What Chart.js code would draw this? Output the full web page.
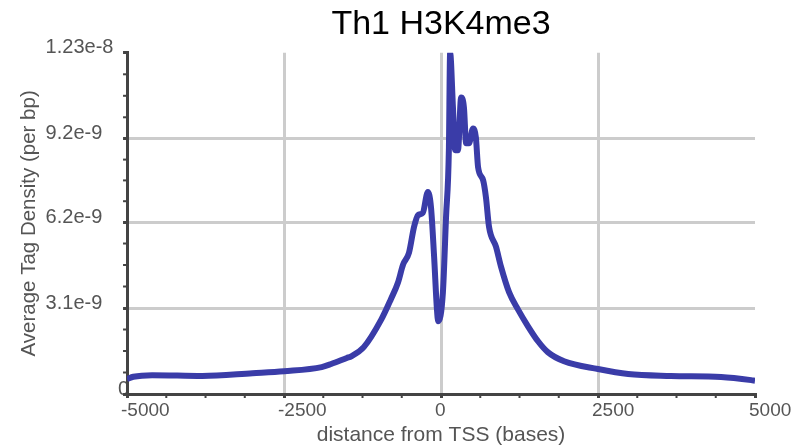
<!DOCTYPE html>
<html>
<head>
<meta charset="utf-8">
<script src="https://cdn.jsdelivr.net/npm/chart.js@4/dist/chart.umd.min.js"></script>
<style>
  html, body { margin: 0; padding: 0; background: #fff; }
  #wrap { width: 805px; height: 448px; }
</style>
</head>
<body>
<div id="wrap"><canvas id="grafico"></canvas></div>
<script>
// distance from TSS (bases)
var distancias = [-5000, -4900, -4600, -3800, -3000, -2500, -1900, -1750, -1500, -1430, -1230,
  -950, -800, -685, -605, -510, -430, -365, -290, -210, -160, -110, -65, -45,
  30, 80, 125, 145, 190, 225, 270, 320, 365, 400, 445, 510, 555, 590, 670, 715,
  765, 875, 955, 1085, 1225, 1385, 1545, 1700, 1960, 2500, 2980, 3660, 4460, 4940, 5000];

// average tag density (per bp)
var densidad = [0.54e-9, 0.62e-9, 0.68e-9, 0.65e-9, 0.75e-9, 0.82e-9, 0.97e-9, 1.08e-9, 1.30e-9, 1.36e-9, 1.69e-9,
  2.69e-9, 3.41e-9, 4.02e-9, 4.66e-9, 5.09e-9, 6.02e-9, 6.45e-9, 6.53e-9, 7.28e-9, 6.74e-9, 4.95e-9, 3.05e-9, 2.62e-9,
  3.66e-9, 6.38e-9, 8.79e-9, 12.3e-9, 10.33e-9, 8.79e-9, 8.79e-9, 10.69e-9, 10.33e-9, 9.04e-9, 9.04e-9, 9.57e-9, 9.25e-9, 8.18e-9, 7.71e-9, 7.10e-9,
  6.02e-9, 5.31e-9, 4.59e-9, 3.66e-9, 3.05e-9, 2.44e-9, 1.9e-9, 1.51e-9, 1.18e-9, 0.90e-9, 0.72e-9, 0.65e-9, 0.61e-9, 0.50e-9, 0.48e-9];

var xTicks = [-5000, -2500, 0, 2500, 5000];
var xTickLabels = ['-5000', '-2500', '0', '2500', '5000'];
var yTicks = [0, 3.1e-9, 6.2e-9, 9.2e-9, 1.23e-8];
var yTickLabels = ['0', '3.1e-9', '6.2e-9', '9.2e-9', '1.23e-8'];

var puntos = distancias.map(function (d, i) {
  return { x: d, y: densidad[i] };
});

var fuente = 'Liberation Sans, Arial, sans-serif';

// the "0" of the y axis sits right against the axis, unlike the others
var ceroEje = {
  id: 'ceroEje',
  beforeDraw: function (chart) {
    var ctx = chart.ctx;
    var sy = chart.scales.y;
    ctx.save();
    ctx.fillStyle = '#555';
    ctx.font = '20px ' + fuente;
    ctx.textAlign = 'right';
    ctx.textBaseline = 'middle';
    ctx.fillText(yTickLabels[0], chart.chartArea.left + 2, sy.getPixelForValue(yTicks[0]) - 5);
    ctx.restore();
  }
};

// small minor ticks between the major ones, outside the axes
var ticksMenores = {
  id: 'ticksMenores',
  afterDraw: function (chart) {
    var ctx = chart.ctx;
    var area = chart.chartArea;
    var sx = chart.scales.x;
    var sy = chart.scales.y;
    ctx.save();
    ctx.strokeStyle = '#444';
    ctx.lineWidth = 2;
    for (var i = 0; i < xTicks.length - 1; i++) {
      for (var k = 1; k < 4; k++) {
        var v = xTicks[i] + (xTicks[i + 1] - xTicks[i]) * k / 4;
        var px = sx.getPixelForValue(v);
        ctx.beginPath();
        ctx.moveTo(px, area.bottom);
        ctx.lineTo(px, area.bottom + 4);
        ctx.stroke();
      }
    }
    for (var j = 0; j < yTicks.length - 1; j++) {
      for (var m = 1; m < 4; m++) {
        var w = yTicks[j] + (yTicks[j + 1] - yTicks[j]) * m / 4;
        var py = sy.getPixelForValue(w);
        ctx.beginPath();
        ctx.moveTo(area.left, py);
        ctx.lineTo(area.left - 4, py);
        ctx.stroke();
      }
    }
    ctx.restore();
  }
};

new Chart(document.getElementById('grafico'), {
  type: 'line',
  data: {
    datasets: [{
      data: puntos,
      borderColor: '#3a3ca8',
      backgroundColor: '#3a3ca8',
      borderWidth: 6,
      pointRadius: 0,
      cubicInterpolationMode: 'monotone',
      fill: false
    }]
  },
  plugins: [ceroEje, ticksMenores],
  options: {
    responsive: true,
    maintainAspectRatio: false,
    animation: false,
    layout: { padding: { left: 17, right: 50, top: 4, bottom: 0 } },
    plugins: {
      legend: { display: false },
      tooltip: { enabled: false },
      title: {
        display: true,
        fullSize: false,
        text: 'Th1 H3K4me3',
        color: '#000',
        font: { family: fuente, size: 34, weight: 'normal' },
        padding: { top: 0, bottom: 8 }
      }
    },
    scales: {
      x: {
        type: 'linear',
        min: -5000,
        max: 5000,
        afterBuildTicks: function (scale) {
          scale.ticks = xTicks.map(function (v) { return { value: v }; });
        },
        ticks: {
          color: '#555',
          font: { family: fuente, size: 19 },
          padding: 1,
          align: 'start',
          labelOffset: -6,
          maxRotation: 0,
          callback: function (value, index) { return xTickLabels[index]; }
        },
        grid: {
          color: function (c) {
            var v = c.tick ? c.tick.value : null;
            return (v === -5000 || v === 5000) ? 'rgba(0,0,0,0)' : '#cccccc';
          },
          lineWidth: 3,
          tickColor: '#444',
          tickLength: 4,
          tickWidth: 3
        },
        border: { color: '#444', width: 3 },
        title: {
          display: true,
          text: 'distance from TSS (bases)',
          color: '#555',
          font: { family: fuente, size: 21 },
          padding: { top: 0, bottom: 0 }
        }
      },
      y: {
        min: 0,
        max: 1.23e-8,
        weight: 0,
        afterBuildTicks: function (scale) {
          scale.ticks = yTicks.map(function (v) { return { value: v }; });
        },
        ticks: {
          color: '#555',
          font: { family: fuente, size: 20 },
          padding: 4.8,
          crossAlign: 'far',
          labelOffset: -5,
          callback: function (value, index) { return index === 0 ? '' : yTickLabels[index]; }
        },
        grid: {
          color: function (c) {
            var v = c.tick ? c.tick.value : null;
            return (v === 0 || v === 1.23e-8) ? 'rgba(0,0,0,0)' : '#cccccc';
          },
          lineWidth: 3,
          tickColor: '#444',
          tickLength: 4,
          tickWidth: 3
        },
        border: { color: '#444', width: 3 }
      },
      yTitulo: {
        type: 'linear',
        position: 'left',
        weight: 1,
        min: 0,
        max: 1,
        ticks: { display: false },
        grid: { display: false, drawTicks: false },
        border: { display: false },
        title: {
          display: true,
          text: 'Average Tag Density (per bp)',
          color: '#555',
          font: { family: fuente, size: 20.5 },
          padding: { top: 0, bottom: 4 }
        }
      }
    }
  }
});
</script>
</body>
</html>
